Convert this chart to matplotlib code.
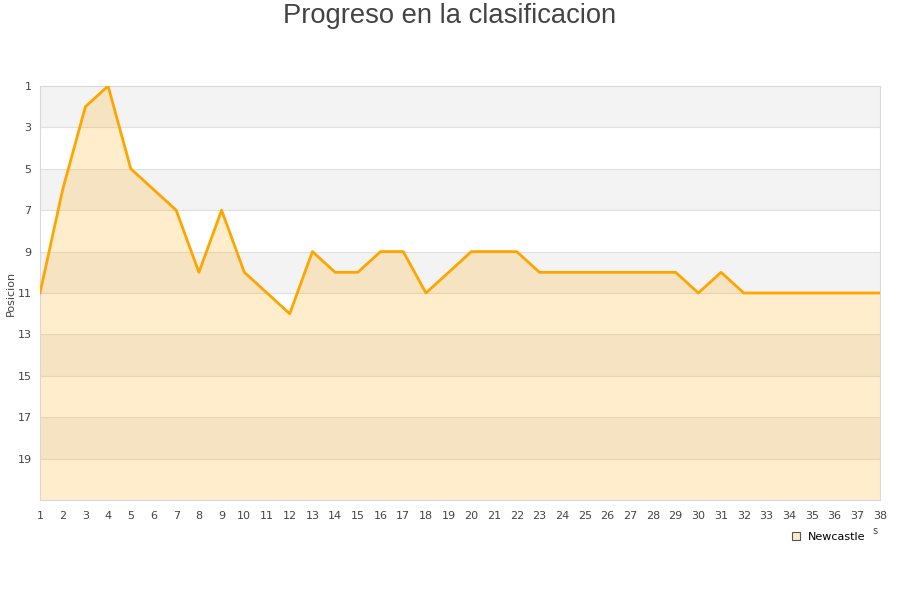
import matplotlib.pyplot as plt
from matplotlib.lines import Line2D

# ── Data ─────────────────────────────────────
jornadas = list(range(1, 39))
posicion = [11, 6, 2, 1, 5, 6, 7, 10, 7, 10, 11, 12, 9, 10, 10, 9, 9, 11, 10, 9,
            9, 9, 10, 10, 10, 10, 10, 10, 10, 11, 10, 11, 11, 11, 11, 11, 11, 11]
y_ticks = [1, 3, 5, 7, 9, 11, 13, 15, 17, 19]
equipo = 'Newcastle'

LINE_COLOR = '#ffa500'
BAND_COLOR = '#f3f3f3'
GRID_COLOR = '#e0e0e0'
TEXT_COLOR = '#444444'

fig = plt.figure(figsize=(9, 6), dpi=100)
ax = fig.add_axes([40/900, 1 - 500/600, 840/900, 414/600])

# alternating background bands
for i, start in enumerate(range(1, 21, 2)):
    if i % 2 == 0:
        ax.axhspan(start, start + 2, color=BAND_COLOR, zorder=0, lw=0)
for t in y_ticks[1:]:
    ax.axhline(t, color=GRID_COLOR, lw=0.8, zorder=1)

ax.fill_between(jornadas, posicion, 21, color=LINE_COLOR, alpha=0.2, lw=0, zorder=2)
ax.plot(jornadas, posicion, color=LINE_COLOR, lw=2, zorder=3)

ax.set_xlim(1, 38)
ax.set_ylim(21, 1)
ax.set_xticks(jornadas)
ax.set_yticks(y_ticks)
ax.tick_params(length=0, labelsize=8, colors=TEXT_COLOR, pad=6)
ax.tick_params(axis='x', pad=8)
for s in ax.spines.values():
    s.set_color('#d8d8d8')
    s.set_linewidth(0.8)

ax.set_ylabel('Posicion', fontsize=8, color=TEXT_COLOR, labelpad=1)

fig.text(0.5, 1 - 16/600, 'Progreso en la clasificacion', ha='center', va='center',
         fontsize=19.7, color=TEXT_COLOR, family='Liberation Sans')
fig.text(875/900, 1 - 531/600, 's', ha='center', va='center', fontsize=7, color=TEXT_COLOR)

handle = Line2D([], [], marker='s', ls='none', markersize=6,
                markerfacecolor='#fdebc8', markeredgecolor='#555555', markeredgewidth=0.8)
fig.legend([handle], [equipo], loc='center', bbox_to_anchor=(828/900, 1 - 537/600),
           frameon=False, fontsize=8, handletextpad=0.6, handlelength=1)

plt.savefig('out.png', dpi=100)
